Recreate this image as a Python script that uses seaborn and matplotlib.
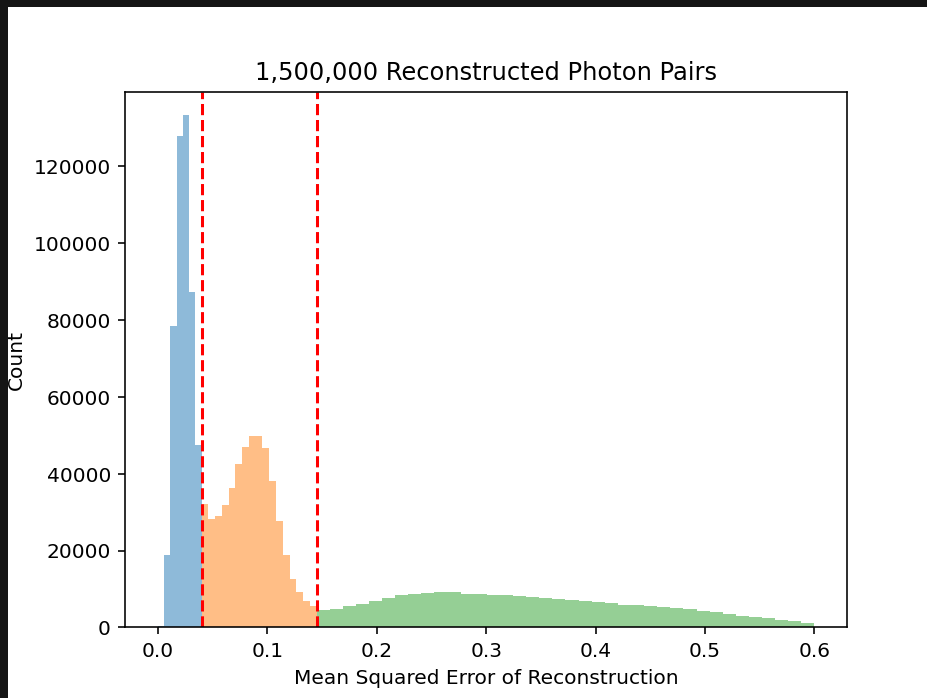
# plot.py
# Reconstruction error histogram, split into three MSE regions by two cuts.

import numpy as np
import pandas as pd
import matplotlib
matplotlib.use('Agg')
import matplotlib.pyplot as plt
from matplotlib.patches import Rectangle
import seaborn as sns

# bin counts
low_counts = [400, 18800, 78400, 128000, 133400, 87200, 47600]
mid_counts = [32200, 28300, 28900, 31900, 36400, 42500, 46900, 49700, 49700,
              46700, 38200, 27800, 18800, 12600, 9200, 6900, 5700]
high_counts = [4430, 4860, 5470, 6160, 6860, 7640, 8420, 8770, 9000, 9200,
               9200, 8770, 8770, 8420, 8420, 8070, 7900, 7640, 7290, 7200,
               6860, 6600, 6400, 5900, 5900, 5470, 5250, 5030, 4770, 4250,
               3900, 3470, 3040, 2690, 2340, 1910, 1560, 1130]

cut_low = 0.04
cut_high = 0.145
mse_min = 0.0
mse_max = 0.6

low_edges = np.linspace(mse_min, cut_low, len(low_counts) + 1)
mid_edges = np.linspace(cut_low, cut_high, len(mid_counts) + 1)
high_edges = np.linspace(cut_high, mse_max, len(high_counts) + 1)


def binned(counts, edges):
    return pd.DataFrame({'mse': (edges[:-1] + edges[1:]) / 2, 'count': counts})


DPI = 145
fig = plt.figure(figsize=(927.3 / DPI, 698.3 / DPI), dpi=DPI, facecolor='#151515')
# screenshot frame: white figure area inside dark border
fig.add_artist(Rectangle((8 / 927, 0), 1, (698 - 7) / 698, transform=fig.transFigure,
                         facecolor='white', edgecolor='none', zorder=-10))
ax = fig.add_axes([125 / 927, 1 - 627.5 / 698, (847 - 125) / 927, (627.5 - 92) / 698])

for counts, edges, col in [(low_counts, low_edges, 'C0'),
                           (mid_counts, mid_edges, 'C1'),
                           (high_counts, high_edges, 'C2')]:
    # bins as a plain list: seaborn 0.13 compares bins to "auto" when weights are used
    sns.histplot(data=binned(counts, edges), x='mse', weights='count',
                 bins=edges.tolist(), color=col, alpha=0.5, linewidth=0, ax=ax)

ax.axvline(cut_low, color='r', linestyle='--', linewidth=1.5)
ax.axvline(cut_high, color='r', linestyle='--', linewidth=1.5)

ax.set_xlim(-0.03, 0.63)
ax.set_ylim(0, 139400)
ax.set_title('1,500,000 Reconstructed Photon Pairs')
ax.set_xlabel('Mean Squared Error of Reconstruction')
ax.set_ylabel('Count')

fig.savefig('out.png', dpi=DPI, facecolor=fig.get_facecolor())
print("Saved: out.png")
